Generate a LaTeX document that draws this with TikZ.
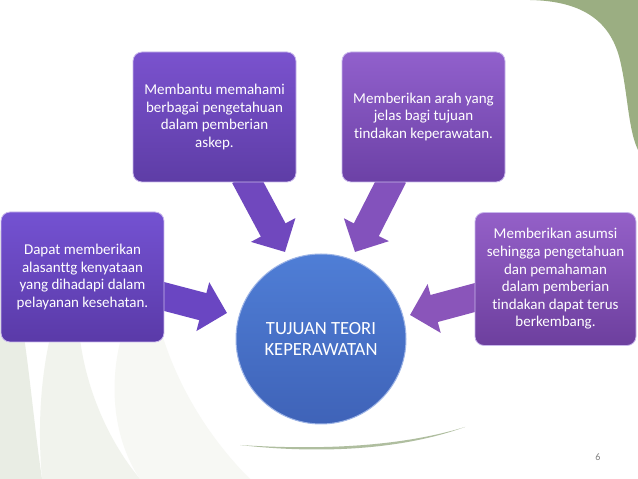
\documentclass[tikz,border=0pt]{standalone}
\usepackage{fontspec}
\setmainfont{Carlito}[Ligatures=NoCommon]
\usetikzlibrary{arrows.meta,calc}
\pgfdeclarelayer{back}
\pgfdeclarelayer{arrowlayer}
\pgfsetlayers{back,arrowlayer,main}
\definecolor{boxAtop}{HTML}{7452D2}
\definecolor{boxAbot}{HTML}{5A3AA8}
\definecolor{boxBtop}{HTML}{7A52CE}
\definecolor{boxBbot}{HTML}{5E3DA6}
\definecolor{boxCtop}{HTML}{9160CC}
\definecolor{boxCbot}{HTML}{6C41A6}
\definecolor{boxDtop}{HTML}{9460C8}
\definecolor{boxDbot}{HTML}{6D3F9E}
\definecolor{arrA}{HTML}{6A46C2}
\definecolor{arrB}{HTML}{7048BE}
\definecolor{arrC}{HTML}{8352BC}
\definecolor{arrD}{HTML}{8A55BA}
\definecolor{circtop}{HTML}{4F7ED6}
\definecolor{circbot}{HTML}{3F63B8}
\definecolor{circedge}{HTML}{9DB4E6}
\definecolor{boxedge}{HTML}{C9B8EC}
\definecolor{greenbg}{HTML}{9BAE82}
\definecolor{paleA}{HTML}{E9EDE4}
\definecolor{paleB}{HTML}{F1F3ED}
\definecolor{paleC}{HTML}{F7F8F4}
\definecolor{greenline}{HTML}{AFBE9F}
\definecolor{pagenum}{HTML}{808080}
\tikzset{
  infobox/.style={rectangle, rounded corners=9pt, draw=boxedge, line width=0.8pt,
    text=white, align=center, inner sep=0pt,
    minimum width=163pt, minimum height=130pt,
    font=\fontsize{15}{17.6}\selectfont},
  blockarrow/.style={line width=28pt, -{Triangle[length=25pt,width=49pt]}},
  hub/.style={circle, minimum size=170pt, inner sep=0pt, draw=circedge, line width=1pt,
    top color=circtop, bottom color=circbot, text=white, align=center,
    font=\fontsize{18.6}{21.5}\selectfont}
}
\begin{document}
\begin{tikzpicture}[x=1pt,y=1pt]
\useasboundingbox (0,0) rectangle (638,479);
\begin{pgfonlayer}{back}
  \fill[white] (0,0) rectangle (638,479);
  \fill[greenbg] (530,479) .. controls (580,478) and (610,460) .. (620,419)
     .. controls (628,385) and (628,350) .. (638,329) -- (638,479) -- cycle;
  \fill[paleA] (0,250) .. controls (25,180) and (30,80) .. (42,0) -- (0,0) -- cycle;
  \fill[paleB] (42,0) .. controls (35,80) and (45,170) .. (90,240)
     .. controls (60,160) and (90,60) .. (140,0) -- cycle;
  \fill[paleC] (140,0) .. controls (100,60) and (110,150) .. (150,200)
     .. controls (160,120) and (200,50) .. (250,0) -- cycle;
  \fill[greenline] (240,34) .. controls (300,27) and (390,25) .. (465,52)
     .. controls (390,29) and (300,30) .. (240,34) -- cycle;
\end{pgfonlayer}

\node[infobox, top color=boxAtop, bottom color=boxAbot] (a) at (82.5,202)
  {Dapat memberikan\\alasanttg kenyataan\\yang dihadapi dalam\\pelayanan kesehatan.};
\node[infobox, top color=boxBtop, bottom color=boxBbot] (b) at (214.5,362)
  {Membantu memahami\\berbagai pengetahuan\\dalam pemberian\\askep.};
\node[infobox, top color=boxCtop, bottom color=boxCbot] (c) at (423.5,362)
  {Memberikan arah yang\\jelas bagi tujuan\\tindakan keperawatan.};
\node[infobox, top color=boxDtop, bottom color=boxDbot, minimum width=161pt, minimum height=133pt] (d) at (555.5,200)
  {Memberikan asumsi\\sehingga pengetahuan\\dan pemahaman\\dalam pemberian\\tindakan dapat terus\\berkembang.};
\node[hub] (hub) at (321,140) {TUJUAN TEORI\\KEPERAWATAN};

\coordinate (sA) at ($(a.east)+(-6,-18)$);
\coordinate (sB) at ($(b.south)+(30,6)$);
\coordinate (sC) at ($(c.south)+(-30,6)$);
\coordinate (sD) at ($(d.west)+(6,-17)$);
\coordinate (tA) at ($(hub.center)+(-94,26)$);
\coordinate (tB) at ($(hub.center)+(-36,87)$);
\coordinate (tC) at ($(hub.center)+(34,87)$);
\coordinate (tD) at ($(hub.center)+(89,24)$);

\begin{pgfonlayer}{arrowlayer}
  \draw[blockarrow, arrA] (sA) -- (tA);
  \draw[blockarrow, arrB] (sB) -- (tB);
  \draw[blockarrow, arrC] (sC) -- (tC);
  \draw[blockarrow, arrD] (sD) -- (tD);
\end{pgfonlayer}

\node[text=pagenum, font=\fontsize{10}{12}\selectfont] (pg) at (598,22) {6};
\end{tikzpicture}
\end{document}
